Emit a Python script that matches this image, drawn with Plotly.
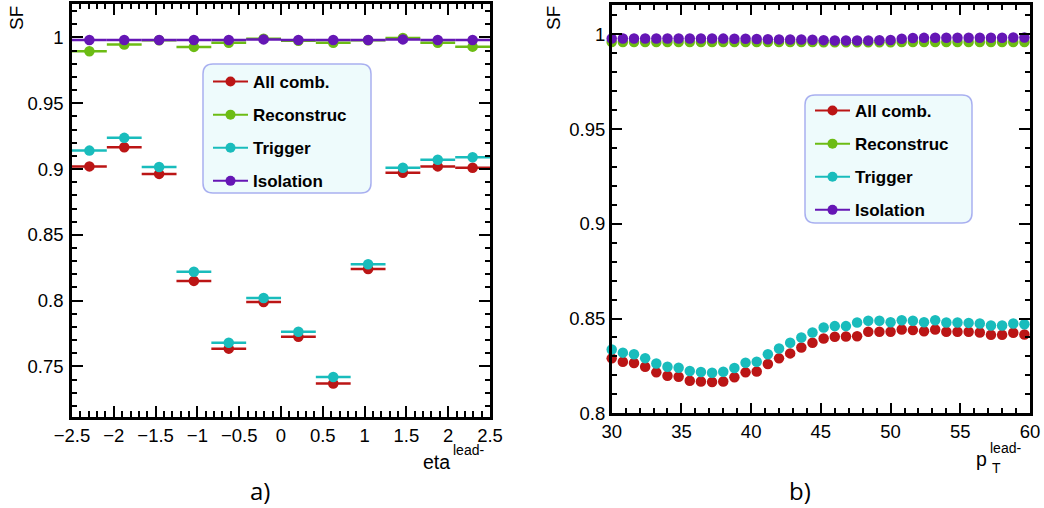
import plotly.graph_objects as go

# ---------------- data ----------------
eta_centers = [-2.292, -1.875, -1.458, -1.042, -0.625, -0.208, 0.208, 0.625, 1.042, 1.458, 1.875, 2.292]
eta_halfwidth = [0.2083, 0.2083, 0.2083, 0.2083, 0.2083, 0.2083, 0.2083, 0.2083, 0.2083, 0.2083, 0.2083, 0.2083]
all_eta = [0.902, 0.9165, 0.8963, 0.815, 0.7635, 0.799, 0.7725, 0.737, 0.824, 0.8972, 0.902, 0.901]
reco_eta = [0.9895, 0.9946, 0.9978, 0.9928, 0.996, 0.999, 0.9975, 0.996, 0.9978, 0.9995, 0.996, 0.993]
trig_eta = [0.914, 0.9237, 0.9015, 0.822, 0.768, 0.802, 0.7763, 0.742, 0.8277, 0.901, 0.907, 0.909]
iso_eta = [0.998, 0.998, 0.998, 0.998, 0.998, 0.9985, 0.998, 0.998, 0.998, 0.9985, 0.998, 0.998]

pt_centers = [30.0, 30.8, 31.6, 32.4, 33.2, 34.0, 34.8, 35.6, 36.4, 37.2,
              38.0, 38.8, 39.6, 40.4, 41.2, 42.0, 42.8, 43.6, 44.4, 45.2,
              46.0, 46.8, 47.6, 48.4, 49.2, 50.0, 50.8, 51.6, 52.4, 53.2,
              54.0, 54.8, 55.6, 56.4, 57.2, 58.0, 58.8, 59.6]
all_pt = [0.829, 0.8272, 0.8265, 0.8246, 0.8216, 0.8198, 0.8193, 0.8172, 0.8168, 0.8165,
          0.8168, 0.819, 0.8216, 0.8221, 0.826, 0.829, 0.8316, 0.8347, 0.8372, 0.8395,
          0.8404, 0.8405, 0.8407, 0.843, 0.843, 0.843, 0.8442, 0.8439, 0.8433, 0.8442,
          0.843, 0.843, 0.843, 0.8426, 0.8414, 0.8414, 0.8425, 0.8416]
trig_pt = [0.8337, 0.832, 0.8312, 0.8291, 0.8263, 0.8246, 0.824, 0.8223, 0.8218, 0.8214,
           0.8219, 0.8239, 0.8267, 0.8272, 0.8312, 0.8342, 0.8372, 0.84, 0.8426, 0.8453,
           0.846, 0.846, 0.8479, 0.8488, 0.8488, 0.848, 0.8491, 0.8488, 0.848, 0.8491,
           0.8479, 0.8479, 0.8477, 0.8474, 0.8463, 0.8463, 0.8474, 0.847]
reco_pt = [0.9959, 0.9959, 0.9959, 0.9959, 0.9959, 0.9959, 0.9959, 0.9959, 0.9959, 0.9959,
           0.9959, 0.9959, 0.9959, 0.9959, 0.9959, 0.9959, 0.9959, 0.9959, 0.9959, 0.9958,
           0.9958, 0.9958, 0.9958, 0.9958, 0.9958, 0.9958, 0.9959, 0.9959, 0.9959, 0.9959,
           0.9959, 0.9959, 0.9959, 0.9959, 0.9959, 0.9959, 0.9959, 0.9959]
iso_pt = [0.9978, 0.9978, 0.9978, 0.9978, 0.9978, 0.9978, 0.9978, 0.9978, 0.9978, 0.9978,
          0.9977, 0.9976, 0.9976, 0.9975, 0.9974, 0.9973, 0.9972, 0.9972, 0.9971, 0.9969,
          0.9967, 0.9967, 0.9967, 0.9967, 0.9968, 0.9970, 0.9976, 0.9980, 0.9981, 0.9982,
          0.9982, 0.9982, 0.9982, 0.9982, 0.9982, 0.9982, 0.9983, 0.9983]

series_names = ["All comb.", "Reconstruc", "Trigger", "Isolation"]
colors = ["#bb1515", "#6cbc14", "#19bcbc", "#6516b5"]

W, H = 1044, 508
def px(x):
    return x / W
def py(y):
    return 1 - y / H

fig = go.Figure()

left_sets = [all_eta, reco_eta, trig_eta, iso_eta]
right_sets = [all_pt, reco_pt, trig_pt, iso_pt]

for name, c, vals in zip(series_names, colors, left_sets):
    fig.add_trace(go.Scatter(
        x=eta_centers, y=vals, mode="markers", showlegend=False,
        marker=dict(color=c, size=10.5),
        error_x=dict(type="data", array=eta_halfwidth, symmetric=True, width=0,
                     thickness=2.5, color=c),
        cliponaxis=False, xaxis="x", yaxis="y"))

for name, c, vals in zip(series_names, colors, right_sets):
    fig.add_trace(go.Scatter(
        x=pt_centers, y=vals, mode="markers", showlegend=False,
        marker=dict(color=c, size=10.5),
        cliponaxis=False, xaxis="x2", yaxis="y2"))

# legend entries (line + marker symbol)
for i, (name, c) in enumerate(zip(series_names, colors)):
    fig.add_trace(go.Scatter(x=[None], y=[None], mode="lines+markers", name=name,
                             legendgroup="L%d" % i, legend="legend",
                             line=dict(color=c, width=2), marker=dict(color=c, size=10),
                             xaxis="x", yaxis="y"))
    fig.add_trace(go.Scatter(x=[None], y=[None], mode="lines+markers", name=name,
                             legendgroup="R%d" % i, legend="legend2",
                             line=dict(color=c, width=2), marker=dict(color=c, size=10),
                             xaxis="x2", yaxis="y2"))

tickfont = dict(family="Liberation Sans, Arial, sans-serif", size=18.5, color="black")
common = dict(showline=True, linewidth=2.5, linecolor="black", mirror="ticks",
              ticks="inside", ticklen=11, tickwidth=2, tickcolor="black",
              showgrid=False, zeroline=False, tickfont=tickfont, automargin=False)

def minor(d):
    return dict(dtick=d, ticks="inside", ticklen=5.5, tickwidth=2, tickcolor="black", showgrid=False)

legfont = dict(family="Liberation Sans, Arial, sans-serif", size=17, color="black", weight="bold")

def rounded(x0, y0, x1, y1, r=10):
    X0, X1 = px(x0), px(x1)
    Y0, Y1 = py(y0), py(y1)
    rx, ry = r / W, r / H
    return ("M %f,%f L %f,%f Q %f,%f %f,%f L %f,%f Q %f,%f %f,%f L %f,%f Q %f,%f %f,%f L %f,%f Q %f,%f %f,%f Z" % (
        X0 + rx, Y0, X1 - rx, Y0, X1, Y0, X1, Y0 - ry, X1, Y1 + ry, X1, Y1, X1 - rx, Y1,
        X0 + rx, Y1, X0, Y1, X0, Y1 + ry, X0, Y0 - ry, X0, Y0, X0 + rx, Y0))

shapes = [
    dict(type="path", xref="paper", yref="paper", path=rounded(203, 64, 371, 193),
         fillcolor="#eefbfc", line=dict(color="#a9b0f0", width=1.5), layer="above"),
    dict(type="path", xref="paper", yref="paper", path=rounded(805, 95, 972, 223),
         fillcolor="#eefbfc", line=dict(color="#a9b0f0", width=1.5), layer="above"),
]

afont = dict(family="Liberation Sans, Arial, sans-serif", color="black")
annotations = [
    dict(text="SF", x=px(16), y=py(18), xref="paper", yref="paper", showarrow=False,
         textangle=-90, font=dict(size=19, **afont), xanchor="center", yanchor="middle"),
    dict(text="SF", x=px(553), y=py(18), xref="paper", yref="paper", showarrow=False,
         textangle=-90, font=dict(size=19, **afont), xanchor="center", yanchor="middle"),
    dict(text="eta", x=px(452), y=py(462), xref="paper", yref="paper", showarrow=False,
         font=dict(size=19.5, **afont), xanchor="right", yanchor="middle"),
    dict(text="lead-", x=px(451), y=py(450), xref="paper", yref="paper", showarrow=False,
         font=dict(size=14, **afont), xanchor="left", yanchor="middle"),
    dict(text="p", x=px(989), y=py(459), xref="paper", yref="paper", showarrow=False,
         font=dict(size=19.5, **afont), xanchor="right", yanchor="middle"),
    dict(text="lead-", x=px(988), y=py(448), xref="paper", yref="paper", showarrow=False,
         font=dict(size=14, **afont), xanchor="left", yanchor="middle"),
    dict(text="T", x=px(990), y=py(468), xref="paper", yref="paper", showarrow=False,
         font=dict(size=14, **afont), xanchor="left", yanchor="middle"),
    dict(text="a)", x=px(260), y=py(490), xref="paper", yref="paper", showarrow=False,
         font=dict(family="Open Sans, Noto Sans, sans-serif", size=24, color="black"),
         xanchor="center", yanchor="middle"),
    dict(text="b)", x=px(800), y=py(490), xref="paper", yref="paper", showarrow=False,
         font=dict(family="Open Sans, Noto Sans, sans-serif", size=24, color="black"),
         xanchor="center", yanchor="middle"),
]

fig.update_layout(
    width=W, height=H, margin=dict(l=0, r=0, t=0, b=0),
    paper_bgcolor="white", plot_bgcolor="white",
    xaxis=dict(domain=[px(72), px(490)], range=[-2.5, 2.5], dtick=0.5, tick0=0,
               minor=minor(0.1), anchor="y", ticklabelstandoff=0, **common),
    yaxis=dict(domain=[py(416.7), py(4)], range=[0.7118, 1.0254], dtick=0.05, tick0=0,
               minor=minor(0.01), anchor="x", ticklabelstandoff=2, **common),
    xaxis2=dict(domain=[px(611.7), px(1030)], range=[30, 60], dtick=5, tick0=0,
                minor=minor(1), anchor="y2", ticklabelstandoff=0, **common),
    yaxis2=dict(domain=[py(413.3), py(4.7)], range=[0.8, 1.0156], dtick=0.05, tick0=0,
                minor=minor(0.01), anchor="x2", ticklabelstandoff=0, **common),
    legend=dict(x=px(208), y=py(64), xanchor="left", yanchor="top",
                bgcolor="rgba(0,0,0,0)", borderwidth=0, font=legfont,
                traceorder="grouped", tracegroupgap=8, itemwidth=35),
    legend2=dict(x=px(810), y=py(93), xanchor="left", yanchor="top",
                 bgcolor="rgba(0,0,0,0)", borderwidth=0, font=legfont,
                 traceorder="grouped", tracegroupgap=8, itemwidth=35),
    shapes=shapes, annotations=annotations,
)

fig.write_html("out.html")
